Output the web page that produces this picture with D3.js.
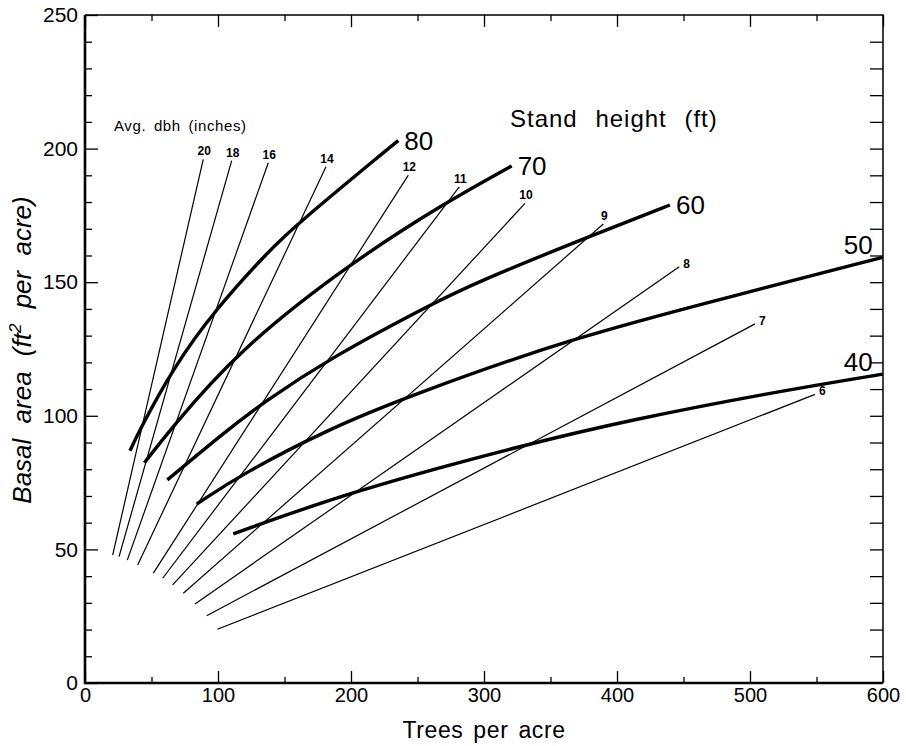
<!DOCTYPE html>
<html>
<head>
<meta charset="utf-8">
<script src="https://cdn.jsdelivr.net/npm/d3@7/dist/d3.min.js"></script>
<style>
  body { margin: 0; background: #ffffff; }
  text { font-family: "Liberation Sans", Arial, sans-serif; fill: #000; }
</style>
</head>
<body>
<div class="grafico"></div>
<script>
// stand height curves (ft)
var alturas = ["80", "70", "60", "50", "40"];
var curva80 = [[33.8, 86.9], [41.4, 95.0], [66.4, 118.0], [97.7, 139.6], [139.1, 162.2], [159.2, 171.6], [226.8, 199.5], [235.6, 203.0]];
var curva70 = [[44.6, 82.4], [63.9, 94.7], [114.1, 124.0], [199.2, 157.1], [272.0, 180.1], [320.8, 193.5]];
var curva60 = [[61.9, 76.0], [104.0, 93.5], [134.1, 105.0], [184.2, 121.6], [259.4, 141.5], [292.0, 149.5], [381.0, 167.5], [439.8, 178.9]];
var curva50 = [[84.0, 67.0], [119.0, 78.5], [184.2, 95.3], [241.9, 107.1], [364.7, 129.0], [488.7, 145.0], [599.8, 159.3]];
var curva40 = [[111.5, 55.8], [199.2, 71.6], [334.6, 89.7], [409.8, 98.4], [512.6, 108.4], [599.8, 115.6]];

// average dbh lines (inches)
var diametros = [20, 18, 16, 14, 12, 11, 10, 9, 8, 7, 6];
var dbhInicio = [[20.8, 47.9], [25.6, 47.3], [31.8, 46.0], [39.6, 44.2], [51.4, 41.1], [58.4, 39.2], [65.9, 36.7], [73.9, 33.6], [82.7, 29.6], [91.5, 25.2], [99.5, 20.1]];
var dbhFin = [[88.9, 196.0], [110.3, 195.5], [137.8, 194.7], [181.2, 193.2], [243.1, 190.1], [281.4, 185.7], [330.8, 179.5], [389.7, 171.8], [446.8, 155.8], [503.8, 134.4], [548.9, 108.0]];

var ticksX = [0, 100, 200, 300, 400, 500, 600];
var ticksY = [0, 50, 100, 150, 200, 250];

var contenedor = d3.select('.grafico')
  .append('svg')
  .attr('width', 906)
  .attr('height', 746);

const xScale = d3.scaleLinear().domain([0, 600]).range([85, 883]);
const yScale = d3.scaleLinear().domain([0, 250]).range([683, 15]);

// minor ticks first
contenedor.append('g')
  .attr('transform', 'translate(0,683)')
  .call(d3.axisBottom(xScale).tickValues(d3.range(50, 600, 100)).tickSize(-6).tickFormat(''));
contenedor.append('g')
  .attr('transform', 'translate(0,15)')
  .call(d3.axisTop(xScale).tickValues(d3.range(50, 600, 100)).tickSize(-6).tickFormat(''));
contenedor.append('g')
  .attr('transform', 'translate(85,0)')
  .call(d3.axisLeft(yScale).tickValues(d3.range(10, 250, 10).filter(d => d % 50)).tickSize(-7).tickFormat(''));
contenedor.append('g')
  .attr('transform', 'translate(883,0)')
  .call(d3.axisRight(yScale).tickValues(d3.range(10, 250, 10)).tickSize(-13).tickFormat(''));

// major ticks with labels
var ejeX = contenedor.append('g')
  .attr('transform', 'translate(0,683)')
  .call(d3.axisBottom(xScale).tickValues(ticksX).tickSize(-12).tickPadding(5).tickFormat(d3.format('d')));
ejeX.selectAll('text').style('font-size', '20px');
contenedor.append('g')
  .attr('transform', 'translate(0,15)')
  .call(d3.axisTop(xScale).tickValues(ticksX).tickSize(-12).tickFormat(''));
var ejeY = contenedor.append('g')
  .attr('transform', 'translate(85,0)')
  .call(d3.axisLeft(yScale).tickValues(ticksY).tickSize(-13).tickPadding(7).tickFormat(d3.format('d')));
ejeY.selectAll('text').style('font-size', '21px');

contenedor.selectAll('.domain').remove();
contenedor.selectAll('.tick line').attr('stroke', '#000').attr('stroke-width', 1.3);

// frame: heavy left/bottom, light top/right
contenedor.append('path')
  .attr('d', 'M' + xScale(0) + ',' + yScale(250) + 'V' + yScale(0) + 'H' + xScale(600))
  .attr('fill', 'none').attr('stroke', '#000').attr('stroke-width', 2.6);
contenedor.append('path')
  .attr('d', 'M' + xScale(0) + ',' + yScale(250) + 'H' + xScale(600) + 'V' + yScale(0))
  .attr('fill', 'none').attr('stroke', '#000').attr('stroke-width', 1.5);

// dbh lines
diametros.forEach(function (d, i) {
  contenedor.append('line')
    .attr('x1', xScale(dbhInicio[i][0]))
    .attr('y1', yScale(dbhInicio[i][1]))
    .attr('x2', xScale(dbhFin[i][0]))
    .attr('y2', yScale(dbhFin[i][1]))
    .attr('stroke', '#000')
    .attr('stroke-width', 1.2);

  var etiqueta = contenedor.append('text')
    .attr('font-size', '12px')
    .attr('font-weight', 'bold')
    .text(d);
  if (d > 8) {
    etiqueta
      .attr('x', xScale(dbhFin[i][0]) + 1)
      .attr('y', yScale(dbhFin[i][1]) - 4)
      .attr('text-anchor', 'middle');
  } else {
    etiqueta
      .attr('x', xScale(dbhFin[i][0]) + 4)
      .attr('y', yScale(dbhFin[i][1]) + 1)
      .attr('text-anchor', 'start');
  }
});

// stand height curves
var linea = d3.line()
  .x(d => xScale(d[0]))
  .y(d => yScale(d[1]))
  .curve(d3.curveBasis);

var curvas = [curva80, curva70, curva60, curva50, curva40];
curvas.forEach(function (c, i) {
  contenedor.append('path')
    .datum(c)
    .attr('d', linea)
    .attr('fill', 'none')
    .attr('stroke', '#000')
    .attr('stroke-width', 3.4);

  var fin = c[c.length - 1];
  var t = contenedor.append('text')
    .attr('font-size', '26px')
    .text(alturas[i]);
  if (fin[0] < 590) {
    t.attr('x', xScale(fin[0]) + 6).attr('y', yScale(fin[1]) + 9);
  } else {
    t.attr('x', xScale(fin[0]) - 10).attr('y', yScale(fin[1]) - 3).attr('text-anchor', 'end');
  }
});

// titles
contenedor.append('text')
  .attr('x', 114)
  .attr('y', 131)
  .attr('font-size', '15px')
  .style('letter-spacing', '0.6px')
  .style('word-spacing', '3px')
  .text('Avg. dbh (inches)');

contenedor.append('text')
  .attr('x', 510)
  .attr('y', 127)
  .attr('font-size', '24px')
  .style('letter-spacing', '1px')
  .style('word-spacing', '10px')
  .text('Stand height (ft)');

contenedor.append('text')
  .attr('x', xScale(300))
  .attr('y', 738)
  .attr('text-anchor', 'middle')
  .attr('font-size', '23px')
  .style('letter-spacing', '0.6px')
  .style('word-spacing', '3px')
  .text('Trees per acre');

var tituloY = contenedor.append('text')
  .attr('transform', 'translate(31,350) rotate(-90)')
  .attr('text-anchor', 'middle')
  .attr('font-size', '26px')
  .attr('font-style', 'italic')
  .style('word-spacing', '8px');
tituloY.append('tspan').text('Basal area (ft');
tituloY.append('tspan').attr('font-size', '17px').attr('dy', -10).text('2');
tituloY.append('tspan').attr('dy', 10).text(' per acre)');
</script>
</body>
</html>
